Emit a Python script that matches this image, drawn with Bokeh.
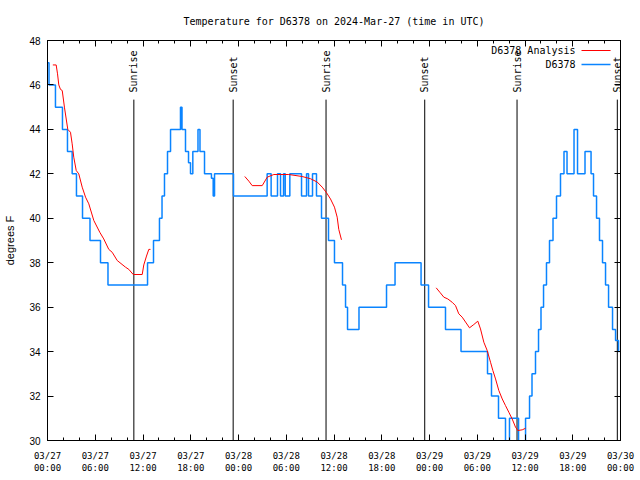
import math
from bokeh.plotting import figure
from bokeh.models import Range1d, FixedTicker, LinearAxis, CustomJSTickFormatter
from bokeh.core.properties import value
from bokeh.embed import file_html
from bokeh.resources import INLINE

# Hours since 2024-03-27 00:00 UTC; observed D6378 temperature (deg F), change points
obs_hours = [0.0, 0.19, 1.0, 1.88, 2.51, 3.1, 3.64, 4.4, 5.34, 6.66, 7.6, 12.57, 13.32, 14.07,
             14.39, 14.7, 15.08, 15.46, 16.71, 16.9, 17.34, 17.72, 17.97, 18.26, 18.91, 19.16,
             19.73, 20.6, 20.82, 20.99, 23.37, 27.6, 28.1, 28.9, 29.28, 29.66, 29.87, 30.45,
             31.92, 32.55, 32.8, 33.3, 33.8, 34.43, 35.31, 36.06, 37.07, 37.45, 37.7, 39.14,
             42.6, 43.67, 46.94, 47.88, 50.01, 51.96, 55.29, 55.79, 56.67, 57.55, 58.05, 59.19,
             60.07, 60.57, 60.88, 61.32, 61.7, 62.01, 62.33, 62.7, 63.08, 63.52, 63.96, 64.46,
             64.9, 65.28, 66.16, 66.6, 67.54, 68.3, 68.61, 68.99, 69.36, 69.74, 70.12, 70.5,
             71.0, 71.38, 71.75, 71.88]
obs_temps = [47, 46, 45, 44, 43, 42, 41, 40, 39, 38, 37, 38, 39, 40,
             41, 42, 43, 44, 45, 44, 43, 42.5, 42, 43, 44, 43,
             42, 41.8, 41, 42, 41, 42, 41, 42, 41, 42, 41, 42,
             41, 42, 41, 42, 41, 40, 39, 38, 37, 36, 35, 36,
             37, 38, 37, 36, 35, 34, 33, 32, 31, 29.5, 31, 29.5,
             31, 32, 33, 34, 35, 36, 37, 38, 39, 40, 41, 42,
             43, 42, 44, 42, 43, 42, 41, 40, 39, 38, 37, 36,
             35, 34.5, 34, 34]

# Analysis series, three separate runs
ana1_hours = [0.67, 1.09, 1.26, 1.42, 1.63, 1.85, 2.14, 2.55, 2.89, 3.1, 3.3, 3.61, 3.93, 4.36,
              4.78, 5.19, 5.82, 6.57, 7.07, 7.7, 8.13, 8.76, 9.8, 10.22, 10.77, 11.9, 12.1,
              12.44, 12.73, 12.94]
ana1_temps = [46.9, 46.9, 46.5, 46.0, 45.8, 45.75, 44.97, 44.0, 43.87, 43.35, 42.75, 42.15, 42.0,
              41.4, 40.95, 40.65, 39.9, 39.37, 39.07, 38.6, 38.47, 38.1, 37.8, 37.7, 37.47,
              37.47, 37.9, 38.3, 38.6, 38.6]
ana2_hours = [24.79, 25.3, 25.72, 26.98, 27.61, 28.44, 30.32, 32.0, 33.05, 33.89, 34.52, 35.02,
              35.56, 36.06, 36.4, 36.6, 36.94]
ana2_temps = [41.88, 41.67, 41.47, 41.47, 41.85, 41.97, 41.97, 41.88, 41.78, 41.63, 41.4, 41.17,
              40.87, 40.5, 40.05, 39.5, 39.03]
ana3_hours = [48.84, 49.3, 49.8, 50.3, 50.85, 51.27, 51.68, 52.11, 52.53, 53.03, 53.57, 54.07,
              54.41, 54.83, 55.25, 55.67, 55.96, 56.3, 56.71, 57.14, 57.55, 57.97, 58.39, 58.81,
              59.1, 59.65, 60.07]
ana3_temps = [36.87, 36.67, 36.45, 36.37, 36.22, 36.07, 35.7, 35.55, 35.33, 35.07, 35.22, 35.37,
              35.02, 34.42, 34.05, 33.52, 33.15, 32.77, 32.25, 31.87, 31.57, 31.27, 30.97, 30.6,
              30.45, 30.48, 30.55]

sun_names = ["Sunrise", "Sunset", "Sunrise", "Sunset", "Sunrise", "Sunset"]
sun_hours = [10.85, 23.33, 35.0, 47.4, 59.0, 71.6]

x_major = [0, 6, 12, 18, 24, 30, 36, 42, 48, 54, 60, 66, 72]
x_minor = list(range(0, 73, 2))
x_labels = ["03/27\n00:00", "03/27\n06:00", "03/27\n12:00", "03/27\n18:00",
            "03/28\n00:00", "03/28\n06:00", "03/28\n12:00", "03/28\n18:00",
            "03/29\n00:00", "03/29\n06:00", "03/29\n12:00", "03/29\n18:00",
            "03/30\n00:00"]
y_ticks = [30, 32, 34, 36, 38, 40, 42, 44, 46, 48]

MONO = "DejaVu Sans Mono"
SANS = "Liberation Sans"
BLUE = "#0a84ff"
RED = "#ff0000"

p = figure(width=640, height=480, output_backend="svg", toolbar_location=None,
           x_range=Range1d(0, 72), y_range=Range1d(30, 48),
           min_border_left=47, min_border_right=20, min_border_top=40, min_border_bottom=40,
           title="Temperature for D6378 on 2024-Mar-27 (time in UTC)")
p.title.align = "center"
p.title.vertical_align = "top"
p.title.text_font = MONO
p.title.text_font_size = "10px"
p.title.text_font_style = "normal"
p.title.text_color = "black"
p.title.standoff = 23
p.xgrid.visible = False
p.ygrid.visible = False
p.outline_line_color = "black"
p.outline_line_alpha = 1.0
p.background_fill_color = "white"
p.border_fill_color = "white"

blank = CustomJSTickFormatter(code="return ''")

def style_x(ax, show_labels):
    ax.ticker = FixedTicker(ticks=x_major, minor_ticks=x_minor)
    ax.major_tick_in = 6
    ax.major_tick_out = 0
    ax.minor_tick_in = 3
    ax.minor_tick_out = 0
    ax.axis_line_color = "black"
    ax.major_tick_line_color = "black"
    ax.minor_tick_line_color = "black"
    if show_labels:
        ax.major_label_overrides = {t: l for t, l in zip(x_major, x_labels)}
        ax.major_label_text_font = MONO
        ax.major_label_text_font_size = "9px"
        ax.major_label_standoff = 10
        ax.major_label_text_color = "black"
    else:
        ax.formatter = blank
        ax.major_label_standoff = 0

def style_y(ax, show_labels):
    ax.ticker = FixedTicker(ticks=y_ticks)
    ax.major_tick_in = 6
    ax.major_tick_out = 0
    ax.minor_tick_line_color = None
    ax.axis_line_color = "black"
    ax.major_tick_line_color = "black"
    if show_labels:
        ax.major_label_text_font = SANS
        ax.major_label_text_font_size = "10px"
        ax.major_label_standoff = 7
        ax.major_label_text_color = "black"
    else:
        ax.formatter = blank
        ax.major_label_standoff = 0

style_x(p.xaxis[0], True)
style_y(p.yaxis[0], True)
p.yaxis[0].axis_label = "degrees F"
p.yaxis[0].axis_label_text_font = SANS
p.yaxis[0].axis_label_text_font_size = "11px"
p.yaxis[0].axis_label_text_font_style = "normal"
p.yaxis[0].axis_label_text_color = "black"
p.yaxis[0].axis_label_standoff = 10

top_ax = LinearAxis()
style_x(top_ax, False)
p.add_layout(top_ax, "above")
right_ax = LinearAxis()
style_y(right_ax, False)
p.add_layout(right_ax, "right")

# sunrise / sunset markers
line_top = 45.34
label_base = 45.66
p.segment(x0=sun_hours, y0=[30] * len(sun_hours), x1=sun_hours, y1=[line_top] * len(sun_hours),
          line_color="black", line_width=1)
p.text(x=sun_hours, y=[label_base] * len(sun_hours), text=sun_names, angle=math.pi / 2,
       text_align="left", text_baseline="middle", text_font=value(MONO),
       text_font_size="10px", text_color="black")

# data
p.step(obs_hours, obs_temps, mode="after", line_color=BLUE, line_width=1.5)
p.line(ana1_hours, ana1_temps, line_color=RED, line_width=1)
p.line(ana2_hours, ana2_temps, line_color=RED, line_width=1)
p.line(ana3_hours, ana3_temps, line_color=RED, line_width=1)

# legend (manual, text right-aligned with sample line to its right)
leg_text_x = 66.35
leg_x0, leg_x1 = 67.1, 70.75
leg_y = [47.55, 46.92]
p.text(x=[leg_text_x, leg_text_x], y=leg_y, text=["D6378 Analysis", "D6378"],
       text_align="right", text_baseline="middle", text_font=value(MONO),
       text_font_size="10px", text_color="black")
p.segment(x0=[leg_x0], y0=[leg_y[0]], x1=[leg_x1], y1=[leg_y[0]], line_color=RED, line_width=1)
p.segment(x0=[leg_x0], y0=[leg_y[1]], x1=[leg_x1], y1=[leg_y[1]], line_color=BLUE, line_width=1.5)

open("out.html", "w").write(file_html(p, INLINE))
